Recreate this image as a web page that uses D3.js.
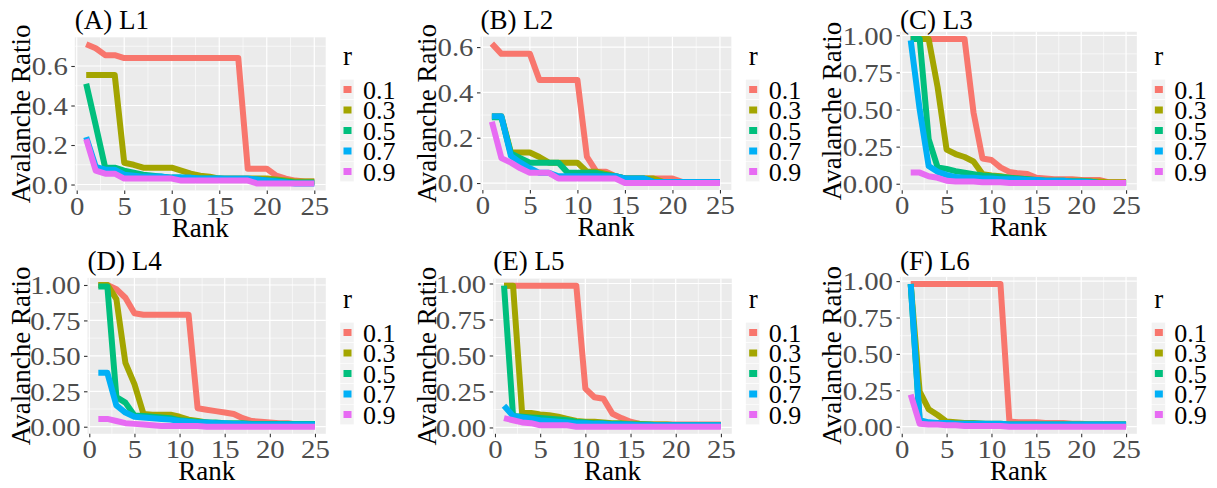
<!DOCTYPE html>
<html><head><meta charset="utf-8">
<script src="https://cdn.jsdelivr.net/npm/d3@7/dist/d3.min.js"></script>
<style>body{margin:0;background:#fff}svg{display:block}</style>
</head><body><svg id="c" width="1217" height="488"></svg>
<script>
const ranks = [1,2,3,4,5,6,7,8,9,10,11,12,13,14,15,16,17,18,19,20,21,22,23,24,25];
const rLevels = ["0.1","0.3","0.5","0.7","0.9"];
const colors = ["#F8766D","#A3A500","#00BF7D","#00B0F6","#E76BF3"];
const titles = ["(A) L1","(B) L2","(C) L3","(D) L4","(E) L5","(F) L6"];
const xTicks = [0,5,10,15,20,25];
const yTicksSmall = [0,0.2,0.4,0.6];
const yTicksLarge = [0,0.25,0.5,0.75,1];

// L1
const L1_r01 = [0.71,0.69,0.655,0.655,0.64,0.64,0.64,0.64,0.64,0.64,0.64,0.64,0.64,0.64,0.64,0.64,0.64,0.08,0.08,0.08,0.045,0.03,0.02,0.015,0.015];
const L1_r03 = [0.555,0.555,0.555,0.555,0.11,0.10,0.085,0.085,0.085,0.085,0.07,0.055,0.045,0.04,0.03,0.03,0.03,0.03,0.03,0.03,0.025,0.02,0.015,0.015,0.015];
const L1_r05 = [0.51,0.30,0.085,0.085,0.07,0.06,0.05,0.045,0.04,0.035,0.035,0.03,0.03,0.03,0.03,0.025,0.025,0.025,0.025,0.02,0.02,0.015,0.01,0.01,0.01];
const L1_r07 = [0.24,0.09,0.075,0.075,0.05,0.045,0.04,0.04,0.04,0.035,0.035,0.035,0.03,0.03,0.03,0.03,0.03,0.03,0.025,0.02,0.015,0.01,0.005,0.005,0.005];
const L1_r09 = [0.23,0.07,0.055,0.055,0.03,0.03,0.03,0.03,0.03,0.03,0.02,0.02,0.02,0.02,0.02,0.02,0.02,0.02,0.005,0.005,0.005,0.005,0.005,0.005,0.005];
// L2
const L2_r01 = [0.615,0.57,0.57,0.57,0.57,0.455,0.455,0.455,0.455,0.455,0.116,0.05,0.05,0.03,0.02,0.02,0.02,0.02,0.02,0.02,0.005,0.005,0.005,0.005,0.005];
const L2_r03 = [0.295,0.295,0.135,0.135,0.135,0.115,0.09,0.09,0.09,0.09,0.05,0.05,0.04,0.03,0.02,0.02,0.02,0.02,0.005,0.005,0.005,0.005,0.005,0.005,0.005];
const L2_r05 = [0.29,0.29,0.13,0.11,0.09,0.09,0.09,0.09,0.045,0.045,0.045,0.045,0.035,0.03,0.02,0.02,0.02,0.005,0.005,0.005,0.005,0.005,0.005,0.005,0.005];
const L2_r07 = [0.295,0.295,0.12,0.09,0.065,0.045,0.045,0.03,0.03,0.03,0.03,0.03,0.03,0.03,0.02,0.02,0.02,0.005,0.005,0.005,0.005,0.005,0.005,0.005,0.005];
const L2_r09 = [0.27,0.11,0.09,0.065,0.045,0.045,0.045,0.02,0.02,0.02,0.02,0.02,0.02,0.02,0,0,0,0,0,0,0,0,0,0,0];
// L3
const L3_r01 = [0.975,0.975,0.975,0.975,0.975,0.975,0.975,0.48,0.17,0.16,0.11,0.08,0.07,0.065,0.04,0.035,0.03,0.03,0.03,0.025,0.025,0.025,0.01,0.01,0.01];
const L3_r03 = [0.975,0.975,0.975,0.65,0.23,0.2,0.18,0.15,0.065,0.055,0.05,0.04,0.035,0.03,0.025,0.02,0.02,0.02,0.02,0.02,0.015,0.015,0.01,0.01,0.01];
const L3_r05 = [0.975,0.975,0.3,0.11,0.1,0.085,0.075,0.065,0.055,0.05,0.045,0.04,0.035,0.03,0.025,0.02,0.02,0.02,0.015,0.015,0.015,0.005,0.005,0.005,0.005];
const L3_r07 = [0.965,0.5,0.12,0.08,0.06,0.045,0.04,0.04,0.035,0.035,0.03,0.03,0.03,0.025,0.025,0.02,0.02,0.02,0.015,0.015,0.01,0.005,0.005,0.005,0.005];
const L3_r09 = [0.075,0.075,0.05,0.04,0.02,0.015,0.015,0.015,0.01,0.01,0.01,0.005,0.005,0.005,0.005,0.005,0.005,0.005,0.005,0.005,0.005,0.005,0.005,0.005,0.005];
// L4
const L4_r01 = [1.0,1.0,0.97,0.91,0.8,0.79,0.79,0.79,0.79,0.79,0.79,0.13,0.12,0.11,0.1,0.09,0.06,0.04,0.035,0.03,0.025,0.025,0.015,0.015,0.015];
const L4_r03 = [1.0,1.0,0.9,0.45,0.3,0.09,0.085,0.085,0.085,0.07,0.05,0.04,0.03,0.02,0.02,0.02,0.02,0.02,0.02,0.02,0.02,0.02,0.02,0.02,0.02];
const L4_r05 = [0.99,0.99,0.21,0.17,0.08,0.075,0.07,0.065,0.06,0.045,0.04,0.035,0.03,0.03,0.025,0.025,0.025,0.02,0.02,0.02,0.02,0.02,0.02,0.02,0.02];
const L4_r07 = [0.38,0.38,0.15,0.1,0.07,0.065,0.06,0.055,0.05,0.04,0.035,0.03,0.03,0.025,0.025,0.02,0.02,0.015,0.015,0.015,0.015,0.015,0.015,0.015,0.015];
const L4_r09 = [0.055,0.055,0.04,0.025,0.02,0.015,0.01,0.005,0.005,0.005,0.005,0.005,0,0,0,0,0,0,0,0,0,0,0,0,0];
// L5
const L5_r01 = [0.985,0.985,0.985,0.985,0.985,0.985,0.985,0.985,0.985,0.27,0.21,0.2,0.095,0.065,0.04,0.025,0.02,0.02,0.02,0.02,0.02,0.02,0.02,0.02,0.02];
const L5_r03 = [0.985,0.985,0.1,0.1,0.09,0.085,0.075,0.06,0.045,0.04,0.04,0.035,0.03,0.03,0.025,0.025,0.02,0.02,0.02,0.015,0.015,0.015,0.015,0.015,0.015];
const L5_r05 = [0.985,0.08,0.075,0.07,0.065,0.06,0.055,0.05,0.04,0.035,0.03,0.03,0.025,0.025,0.02,0.02,0.02,0.015,0.015,0.015,0.015,0.015,0.015,0.015,0.015];
const L5_r07 = [0.15,0.08,0.07,0.06,0.05,0.045,0.04,0.035,0.03,0.03,0.025,0.025,0.02,0.02,0.02,0.015,0.015,0.015,0.015,0.015,0.015,0.015,0.015,0.015,0.015];
const L5_r09 = [0.065,0.05,0.035,0.03,0.015,0.015,0.015,0.015,0.005,0.005,0.005,0.005,0.005,0.005,0.005,0.005,0.005,0.005,0.005,0.005,0.005,0.005,0.005,0.005,0.005];
// L6
const L6_r01 = [0.98,0.98,0.98,0.98,0.98,0.98,0.98,0.98,0.98,0.98,0.98,0.035,0.03,0.03,0.03,0.025,0.025,0.025,0.02,0.02,0.015,0.015,0.015,0.015,0.015];
const L6_r03 = [0.98,0.24,0.12,0.08,0.035,0.03,0.025,0.025,0.02,0.02,0.02,0.015,0.015,0.015,0.015,0.015,0.015,0.015,0.015,0.015,0.015,0.015,0.015,0.015,0.015];
const L6_r05 = [0.98,0.03,0.025,0.025,0.025,0.02,0.02,0.02,0.02,0.015,0.015,0.015,0.015,0.015,0.015,0.015,0.015,0.015,0.015,0.015,0.015,0.015,0.015,0.015,0.015];
const L6_r07 = [0.98,0.045,0.03,0.025,0.025,0.02,0.02,0.02,0.02,0.02,0.02,0.015,0.015,0.015,0.015,0.015,0.015,0.015,0.015,0.015,0.015,0.015,0.015,0.015,0.015];
const L6_r09 = [0.22,0.02,0.015,0.015,0.01,0.01,0.005,0.005,0.005,0.005,0.005,0,0,0,0,0,0,0,0,0,0,0,0,0,0];

const panelSeries = [
  [L1_r01,L1_r03,L1_r05,L1_r07,L1_r09],
  [L2_r01,L2_r03,L2_r05,L2_r07,L2_r09],
  [L3_r01,L3_r03,L3_r05,L3_r07,L3_r09],
  [L4_r01,L4_r03,L4_r05,L4_r07,L4_r09],
  [L5_r01,L5_r03,L5_r05,L5_r07,L5_r09],
  [L6_r01,L6_r03,L6_r05,L6_r07,L6_r09]
];

// layout (pixels)
const cellW = 405.67;
const layout = [
  {left:74.8, top:37.3, right:325.7, bottom:190.5, row:0},
  {left:74.8, top:36.7, right:325.7, bottom:190.0, row:0},
  {left:88.6, top:31.8, right:325.5, bottom:190.2, row:0},
  {left:87.5, top:277.9, right:325.8, bottom:433.8, row:1},
  {left:87.5, top:278.6, right:326.1, bottom:433.8, row:1},
  {left:88.6, top:276.9, right:325.5, bottom:433.8, row:1}
];
const rowTitleY = [29.3, 270];
const rowLegendTitleY = [65, 308];
const rowLegendKey0 = [89.5, 332.5];
const keyStep = 20.5;
const FONT = "Liberation Serif";
const TICK_STRETCH = 1.15;

const svg = d3.select("#c");

function minorTicks(ticks, domain){
  const step = ticks[1]-ticks[0];
  const out = [];
  for (let i=-1;i<ticks.length;i++){
    const v = ticks[0] + (i+0.5)*step;
    if (v>domain[0] && v<domain[1]) out.push(v);
  }
  return out;
}

function txt(sel, size, fill){
  return sel.attr("font-family",FONT).attr("font-size",size).attr("fill",fill);
}

panelSeries.forEach((series, p) => {
  const L = layout[p];
  const cx = (p%3)*cellW;
  const g = svg.append("g").attr("transform", `translate(${cx},0)`);
  const xExt = d3.extent(ranks);
  const xPad = (xExt[1]-xExt[0])*0.05;
  const x = d3.scaleLinear().domain([xExt[0]-xPad, xExt[1]+xPad]).range([L.left, L.right]);
  const allY = series.flat();
  const yExt = d3.extent(allY);
  const yPad = (yExt[1]-yExt[0])*0.05;
  const y = d3.scaleLinear().domain([yExt[0]-yPad, yExt[1]+yPad]).range([L.bottom, L.top]);
  const yTicks = p < 2 ? yTicksSmall : yTicksLarge;
  const yFmt = p < 2 ? d3.format(".1f") : d3.format(".2f");

  g.append("rect").attr("x",L.left).attr("y",L.top).attr("width",L.right-L.left).attr("height",L.bottom-L.top).attr("fill","#EBEBEB");
  minorTicks(xTicks, x.domain()).forEach(v=>{
    g.append("line").attr("x1",x(v)).attr("x2",x(v)).attr("y1",L.top).attr("y2",L.bottom).attr("stroke","#fff").attr("stroke-width",0.6);
  });
  minorTicks(yTicks, y.domain()).forEach(v=>{
    g.append("line").attr("y1",y(v)).attr("y2",y(v)).attr("x1",L.left).attr("x2",L.right).attr("stroke","#fff").attr("stroke-width",0.6);
  });
  xTicks.forEach(v=>{
    g.append("line").attr("x1",x(v)).attr("x2",x(v)).attr("y1",L.top).attr("y2",L.bottom).attr("stroke","#fff").attr("stroke-width",1.2);
  });
  yTicks.forEach(v=>{
    g.append("line").attr("y1",y(v)).attr("y2",y(v)).attr("x1",L.left).attr("x2",L.right).attr("stroke","#fff").attr("stroke-width",1.2);
  });

  const line = d3.line().x((d,i)=>x(ranks[i])).y(d=>y(d));
  series.forEach((s,k)=>{
    g.append("path").attr("d", line(s)).attr("fill","none").attr("stroke",colors[k])
      .attr("stroke-width",6).attr("stroke-linejoin","round").attr("stroke-linecap","butt");
  });

  const xAxis = d3.axisBottom(x).tickValues(xTicks).tickSize(3.5).tickPadding(3).tickFormat(d3.format("d"));
  const gx = g.append("g").attr("transform",`translate(0,${L.bottom})`).call(xAxis);
  const yAxis = d3.axisLeft(y).tickValues(yTicks).tickSize(3.5).tickPadding(3.5).tickFormat(yFmt);
  const gy = g.append("g").attr("transform",`translate(${L.left},0)`).call(yAxis);
  [gx,gy].forEach(a=>{
    a.attr("font-family",FONT).attr("font-size",25);
    a.select(".domain").remove();
    a.selectAll(".tick line").attr("stroke","#333333").attr("stroke-width",1.1);
    txt(a.selectAll(".tick text"), 25, "#4D4D4D");
  });
  gx.selectAll(".tick text").attr("dy",null).attr("y",null).attr("x",0)
    .attr("transform",`translate(0,24) scale(${TICK_STRETCH},1)`);
  gy.selectAll(".tick text").attr("dy","0.35em").attr("x",0)
    .attr("transform",`translate(-7,0) scale(${TICK_STRETCH},1)`);

  txt(g.append("text"), 27, "#000").attr("x",(L.left+L.right)/2).attr("y",L.bottom+46).attr("text-anchor","middle").text("Rank");
  txt(g.append("text"), 27, "#000").attr("transform",`translate(30,${(L.top+L.bottom)/2}) rotate(-90)`).attr("text-anchor","middle").text("Avalanche Ratio");
  txt(g.append("text"), 27, "#000").attr("x",L.left).attr("y",rowTitleY[L.row]).text(titles[p]);

  txt(g.append("text"), 27, "#000").attr("x",343).attr("y",rowLegendTitleY[L.row]).text("r");
  rLevels.forEach((lab,k)=>{
    const cy = rowLegendKey0[L.row] + k*keyStep;
    g.append("rect").attr("x",340).attr("y",cy-keyStep/2).attr("width",14).attr("height",keyStep).attr("fill","#F2F2F2").attr("stroke","#fff").attr("stroke-width",0.5);
    g.append("rect").attr("x",343.5).attr("y",cy-3.5).attr("width",8).attr("height",7).attr("fill",colors[k]);
    txt(g.append("text"), 26, "#000").attr("x",363).attr("y",cy).attr("dy","0.35em").text(lab);
  });
});
</script></body></html>
